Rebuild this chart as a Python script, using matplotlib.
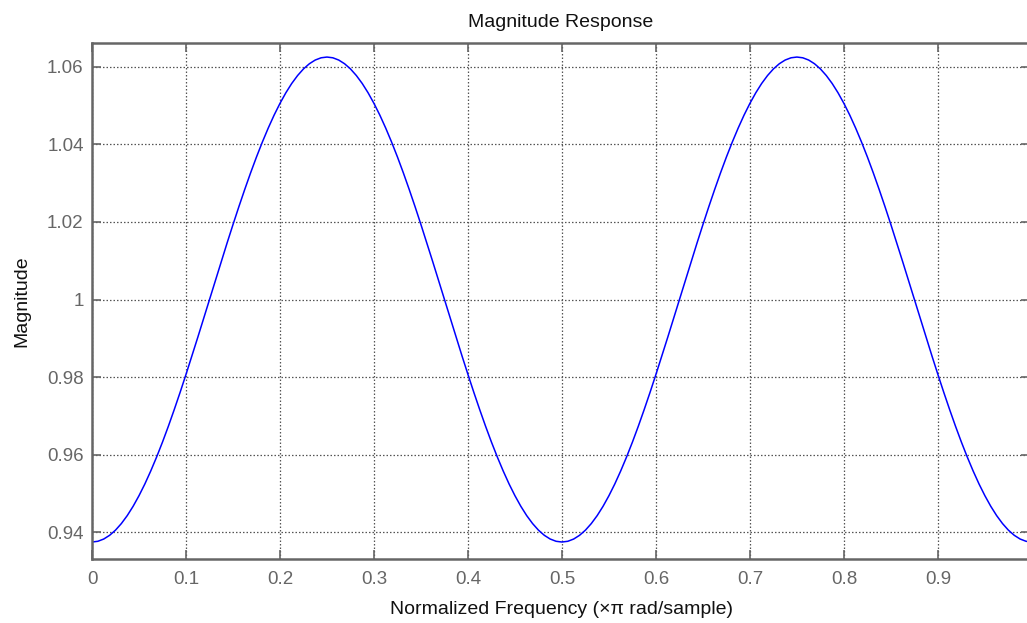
import matplotlib
matplotlib.use("Agg")
import matplotlib.pyplot as plt

# Normalized frequency samples (x pi rad/sample)
freq = [0.00000, 0.00625, 0.01250, 0.01875, 0.02500, 0.03125, 0.03750, 0.04375, 0.05000, 0.05625,
        0.06250, 0.06875, 0.07500, 0.08125, 0.08750, 0.09375, 0.10000, 0.10625, 0.11250, 0.11875,
        0.12500, 0.13125, 0.13750, 0.14375, 0.15000, 0.15625, 0.16250, 0.16875, 0.17500, 0.18125,
        0.18750, 0.19375, 0.20000, 0.20625, 0.21250, 0.21875, 0.22500, 0.23125, 0.23750, 0.24375,
        0.25000, 0.25625, 0.26250, 0.26875, 0.27500, 0.28125, 0.28750, 0.29375, 0.30000, 0.30625,
        0.31250, 0.31875, 0.32500, 0.33125, 0.33750, 0.34375, 0.35000, 0.35625, 0.36250, 0.36875,
        0.37500, 0.38125, 0.38750, 0.39375, 0.40000, 0.40625, 0.41250, 0.41875, 0.42500, 0.43125,
        0.43750, 0.44375, 0.45000, 0.45625, 0.46250, 0.46875, 0.47500, 0.48125, 0.48750, 0.49375,
        0.50000, 0.50625, 0.51250, 0.51875, 0.52500, 0.53125, 0.53750, 0.54375, 0.55000, 0.55625,
        0.56250, 0.56875, 0.57500, 0.58125, 0.58750, 0.59375, 0.60000, 0.60625, 0.61250, 0.61875,
        0.62500, 0.63125, 0.63750, 0.64375, 0.65000, 0.65625, 0.66250, 0.66875, 0.67500, 0.68125,
        0.68750, 0.69375, 0.70000, 0.70625, 0.71250, 0.71875, 0.72500, 0.73125, 0.73750, 0.74375,
        0.75000, 0.75625, 0.76250, 0.76875, 0.77500, 0.78125, 0.78750, 0.79375, 0.80000, 0.80625,
        0.81250, 0.81875, 0.82500, 0.83125, 0.83750, 0.84375, 0.85000, 0.85625, 0.86250, 0.86875,
        0.87500, 0.88125, 0.88750, 0.89375, 0.90000, 0.90625, 0.91250, 0.91875, 0.92500, 0.93125,
        0.93750, 0.94375, 0.95000, 0.95625, 0.96250, 0.96875, 0.97500, 0.98125, 0.98750, 0.99375,
        1.00000]

# Magnitude
magnitude = [0.93750, 0.93769, 0.93827, 0.93923, 0.94056, 0.94226, 0.94431, 0.94671, 0.94944, 0.95247,
             0.95581, 0.95941, 0.96326, 0.96734, 0.97163, 0.97608, 0.98069, 0.98541, 0.99022, 0.99510,
             1.00000, 1.00490, 1.00978, 1.01459, 1.01931, 1.02392, 1.02837, 1.03266, 1.03674, 1.04059,
             1.04419, 1.04753, 1.05056, 1.05329, 1.05569, 1.05774, 1.05944, 1.06077, 1.06173, 1.06231,
             1.06250, 1.06231, 1.06173, 1.06077, 1.05944, 1.05774, 1.05569, 1.05329, 1.05056, 1.04753,
             1.04419, 1.04059, 1.03674, 1.03266, 1.02837, 1.02392, 1.01931, 1.01459, 1.00978, 1.00490,
             1.00000, 0.99510, 0.99022, 0.98541, 0.98069, 0.97608, 0.97163, 0.96734, 0.96326, 0.95941,
             0.95581, 0.95247, 0.94944, 0.94671, 0.94431, 0.94226, 0.94056, 0.93923, 0.93827, 0.93769,
             0.93750, 0.93769, 0.93827, 0.93923, 0.94056, 0.94226, 0.94431, 0.94671, 0.94944, 0.95247,
             0.95581, 0.95941, 0.96326, 0.96734, 0.97163, 0.97608, 0.98069, 0.98541, 0.99022, 0.99510,
             1.00000, 1.00490, 1.00978, 1.01459, 1.01931, 1.02392, 1.02837, 1.03266, 1.03674, 1.04059,
             1.04419, 1.04753, 1.05056, 1.05329, 1.05569, 1.05774, 1.05944, 1.06077, 1.06173, 1.06231,
             1.06250, 1.06231, 1.06173, 1.06077, 1.05944, 1.05774, 1.05569, 1.05329, 1.05056, 1.04753,
             1.04419, 1.04059, 1.03674, 1.03266, 1.02837, 1.02392, 1.01931, 1.01459, 1.00978, 1.00490,
             1.00000, 0.99510, 0.99022, 0.98541, 0.98069, 0.97608, 0.97163, 0.96734, 0.96326, 0.95941,
             0.95581, 0.95247, 0.94944, 0.94671, 0.94431, 0.94226, 0.94056, 0.93923, 0.93827, 0.93769,
             0.93750]

xticks = [0, 0.1, 0.2, 0.3, 0.4, 0.5, 0.6, 0.7, 0.8, 0.9]
xticklabels = ["0", "0.1", "0.2", "0.3", "0.4", "0.5", "0.6", "0.7", "0.8", "0.9"]
yticks = [0.94, 0.96, 0.98, 1.00, 1.02, 1.04, 1.06]
yticklabels = ["0.94", "0.96", "0.98", "1", "1.02", "1.04", "1.06"]

plt.rcParams['font.family'] = ['Liberation Sans', 'DejaVu Sans']

W, H = 1027, 623
fig = plt.figure(figsize=(W / 100, H / 100), dpi=100)
left, right, top, bottom = 92, 1030, 42.7, 558.7
ax = fig.add_axes([left / W, 1 - bottom / H, (right - left) / W, (bottom - top) / H])

ax.plot(freq, magnitude, color="#0000ff", lw=1.1)
ax.set_xlim(0, 0.998)
ax.set_ylim(0.9332, 1.0662)

gray = "#666666"
ax.set_xticks(xticks)
ax.set_xticklabels(xticklabels)
ax.set_yticks(yticks)
ax.set_yticklabels(yticklabels)
ax.tick_params(direction="in", length=6.5, width=1.2, colors=gray, labelsize=13.5,
               top=True, right=True)
ax.tick_params(axis="x", pad=8.5)
ax.tick_params(axis="y", pad=6)
for s in ax.spines.values():
    s.set_color(gray)
    s.set_linewidth(1.8)
ax.grid(True, color="#555555", linestyle=(0, (1.2, 1.6)), linewidth=0.9)

ax.set_title("Magnitude Response", fontsize=14, color="#111111", pad=11.5)
ax.set_xlabel("Normalized Frequency (\u00d7\u03c0 rad/sample)", fontsize=14, color="#111111", labelpad=10)
ax.set_ylabel("Magnitude", fontsize=14, color="#111111", labelpad=12)

fig.savefig("out.png", dpi=100)
